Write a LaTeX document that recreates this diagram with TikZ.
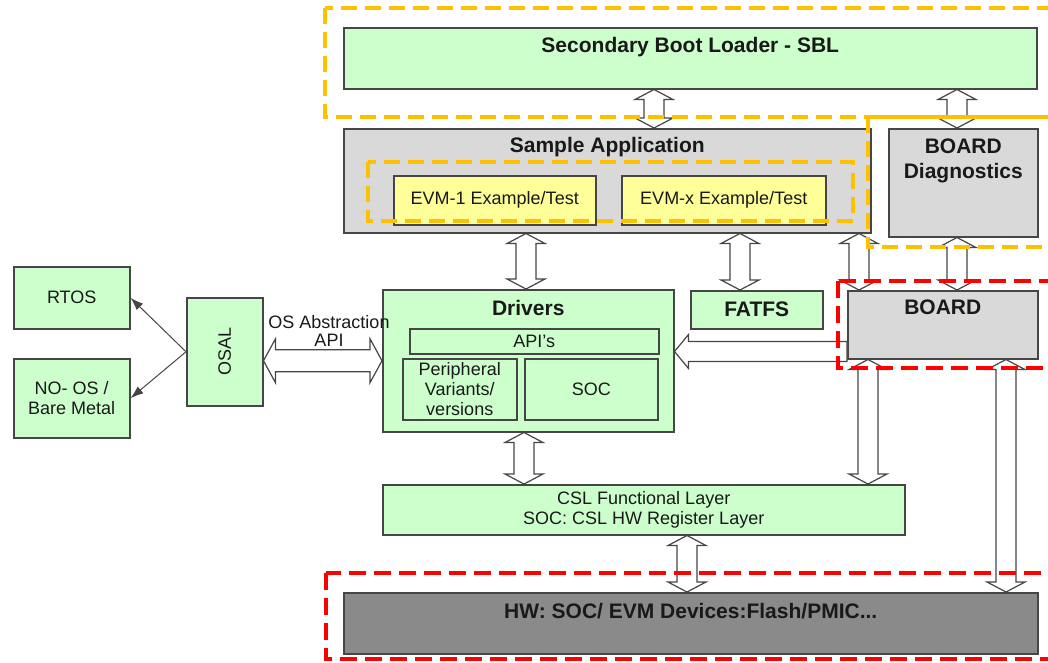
\documentclass[tikz,border=0pt]{standalone}
\usepackage{fontspec}
\setmainfont{Liberation Sans}
\usetikzlibrary{positioning,calc,arrows.meta}
\definecolor{boxgreen}{RGB}{204,255,204}
\definecolor{boxgray}{RGB}{217,217,217}
\definecolor{hwgray}{RGB}{138,138,138}
\definecolor{boxyellow}{RGB}{255,255,153}
\definecolor{edgegray}{RGB}{70,70,70}
\definecolor{frameorange}{RGB}{255,192,0}
\definecolor{framered}{RGB}{255,0,0}
\tikzset{
  box/.style={draw=edgegray,line width=1.5pt,anchor=north west,inner sep=0pt,align=center,
    text=black!90,font=\fontsize{18}{20}\selectfont},
  greenbox/.style={box,fill=boxgreen},
  graybox/.style={box,fill=boxgray},
  yellowbox/.style={box,fill=boxyellow},
  title/.style={inner sep=0pt,align=center,text=black!90,font=\bfseries\fontsize{21}{25}\selectfont},
  blockarrow/.style={draw=edgegray,line width=1.2pt,fill=white,line join=miter},
  pointer/.style={draw=edgegray,line width=1pt,-{Latex[length=13pt,width=9pt]}},
  orangeframe/.style={draw=frameorange,line width=4.5pt,dash pattern=on 16pt off 8pt},
  redframe/.style={draw=framered,line width=4.5pt,dash pattern=on 17pt off 8pt}
}
\newcommand\updown[3]{\draw[blockarrow] let \p1=(#2.south), \p2=(#3.north) in
  (#1pt,\y1) -- ++(19pt,-10pt) -- ++(-9pt,0) -- ({#1pt+10pt},{\y2+10pt}) -- ++(9pt,0)
  -- (#1pt,\y2) -- ++(-19pt,10pt) -- ++(9pt,0) -- ({#1pt-10pt},{\y1-10pt}) -- ++(-9pt,0) -- cycle;}
\begin{document}
\begin{tikzpicture}[x=1pt,y=-1pt]
 \useasboundingbox (0,0) rectangle (1048,662);
 \node[greenbox,minimum width=693pt,minimum height=61pt] (sbl) at (343,27) {};
 \node[title,below=10pt of sbl.north] (sbltitle) {Secondary Boot Loader - SBL};
 \node[graybox,minimum width=527pt,minimum height=104pt] (app) at (343,128) {};
 \node[title,below=9.5pt of app.north] (apptitle) {Sample Application};
 \node[yellowbox,minimum width=202pt,minimum height=49pt] (evm1) at (393,175) {EVM-1 Example/Test};
 \node[yellowbox,minimum width=204pt,minimum height=49pt] (evmx) at (621,175) {EVM-x Example/Test};
 \node[graybox,minimum width=149pt,minimum height=108pt] (diag) at (888,128) {};
 \node[title,below=10.5pt of diag.north] (diagtitle) {BOARD\\Diagnostics};
 \node[greenbox,minimum width=291pt,minimum height=142pt] (drivers) at (382,289) {};
 \node[title,below=11pt of drivers.north] (driverstitle) {Drivers};
 \node[greenbox,minimum width=249pt,minimum height=25pt] (apis) at (409,328) {API's};
 \node[greenbox,minimum width=114pt,minimum height=61pt] (periph) at (402,358) {Peripheral\\Variants/\\versions};
 \node[greenbox,minimum width=133pt,minimum height=61pt] (soc) at (524,358) {SOC};
 \node[greenbox,minimum width=132pt,minimum height=38pt,font=\bfseries\fontsize{21}{25}\selectfont] (fatfs) at (690,290) {FATFS};
 \node[graybox,minimum width=190pt,minimum height=68pt] (board) at (847,290) {};
 \node[title,below=9.5pt of board.north] (boardtitle) {BOARD};
 \node[greenbox,minimum width=116pt,minimum height=62pt] (rtos) at (13,266) {RTOS};
 \node[greenbox,minimum width=116pt,minimum height=79pt] (noos) at (13,358) {NO- OS /\\Bare Metal};
 \node[greenbox,minimum width=76pt,minimum height=108pt] (osal) at (186,297) {\rotatebox{90}{OSAL}};
 \node[greenbox,minimum width=522pt,minimum height=50pt] (csl) at (382,484) {CSL Functional Layer\\SOC: CSL HW Register Layer};
 \node[box,fill=hwgray,minimum width=694pt,minimum height=61pt] (hw) at (343,592) {};
 \node[title,below=11.5pt of hw.north] (hwtitle) {HW: SOC/ EVM Devices:Flash/PMIC...};

 \draw[pointer] (osal.west) -- (rtos.east);
 \draw[pointer] (osal.west) -- (noos.east);
 \draw[blockarrow] let \p1=(osal.east), \p2=(drivers.west) in
  (\x1,\y2) -- ++(12pt,22pt) -- ++(0,-11pt) -- ({\x2-12pt},{\y2+11pt}) -- ++(0,11pt) -- (\x2,\y2)
  -- ++(-12pt,-22pt) -- ++(0,11pt) -- ({\x1+12pt},{\y2-11pt}) -- ++(0,-11pt) -- cycle;
 \node[inner sep=0pt,align=center,text=black!90,font=\fontsize{18}{18}\selectfont] (osapi) at (329,331) {OS Abstraction\\API};
 \draw[blockarrow] let \p1=($(board.south west)+(0,-8)$), \p2=(drivers.east) in
  (\x2,\y1) -- ({\x2+14pt},{\y1+17pt}) -- ({\x2+14pt},{\y1+10pt}) -- (\x1,{\y1+10pt})
  -- (\x1,{\y1-10pt}) -- ({\x2+14pt},{\y1-10pt}) -- ({\x2+14pt},{\y1-17pt}) -- cycle;
 \updown{654}{sbl}{app}
 \updown{957}{sbl}{diag}
 \updown{526}{app}{drivers}
 \updown{740}{app}{fatfs}
 \updown{859}{app}{board}
 \updown{957}{diag}{board}
 \updown{524}{drivers}{csl}
 \updown{868}{board}{csl}
 \updown{687}{csl}{hw}
 \updown{1006}{board}{hw}

 \draw[orangeframe] (325,8) rectangle (1060,117);
 \draw[orangeframe] (868,117) rectangle (1060,247);
 \draw[orangeframe] (368,162) rectangle (853,221);
 \draw[redframe] (838,281) rectangle (1060,368);
 \draw[redframe] (326,573) rectangle (1060,659);
\end{tikzpicture}
\end{document}
